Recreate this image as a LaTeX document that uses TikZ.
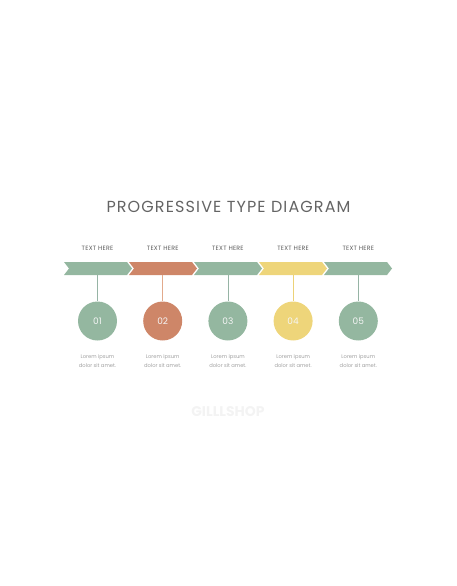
\documentclass[tikz,border=0pt]{standalone}
\usepackage{fontspec}
\setmainfont{Poppins}
\newfontfamily\titlefont[LetterSpace=7]{Poppins}
\newfontfamily\labfont[LetterSpace=4]{Poppins}
\definecolor{sage}{RGB}{148,183,160}
\definecolor{terra}{RGB}{206,134,104}
\definecolor{sun}{RGB}{238,213,122}
\definecolor{sageline}{RGB}{150,180,165}
\definecolor{terraline}{RGB}{226,170,140}
\definecolor{sunline}{RGB}{236,210,120}
\definecolor{titlegray}{RGB}{100,100,100}
\definecolor{labgray}{RGB}{90,90,90}
\definecolor{lorgray}{RGB}{160,160,160}
\definecolor{wm}{RGB}{243,243,243}
\tikzset{
  x=1pt,y=-1pt,
  numcircle/.style={circle,minimum size=39pt,inner sep=0pt,text=white!92!gray,font=\fontsize{9}{9}\selectfont},
  headlab/.style={font=\labfont\fontsize{6.2}{6.5}\selectfont,text=labgray,inner sep=0pt},
  lorem/.style={font=\fontsize{5.2}{9}\selectfont,text=lorgray,align=center,inner sep=0pt},
  stem/.style={line width=0.8pt}
}
\begin{document}
\begin{tikzpicture}
\useasboundingbox (0,0) rectangle (456,586);
\node[font=\titlefont\fontsize{16}{17}\selectfont,text=titlegray,inner sep=0pt] (title) at (228.5,207) {PROGRESSIVE TYPE DIAGRAM};
\foreach \i/\c/\l/\n in {0/sage/sageline/01,1/terra/terraline/02,2/sage/sageline/03,3/sun/sunline/04,4/sage/sageline/05}{
  \pgfmathsetmacro{\xo}{64+65*\i}
  \pgfmathsetmacro{\xc}{97.5+65.2*\i}
  \fill[\c] (\xo,262) -- ++(63,0) -- ++(5,6.5) -- ++(-5,6.5) -- ++(-63,0) -- ++(5,-6.5) -- cycle;
  \coordinate (a\n) at (\xc,275);
  \node[headlab] (h\n) at (\xc,248.5) {TEXT HERE};
  \node[numcircle,fill=\c] (c\n) at (\xc,321) {\n};
  \draw[stem,\l] (a\n) -- (c\n.north);
  \node[lorem] (t\n) at (\xc,361.5) {Lorem ipsum\\dolor sit amet.};
}
\node[font=\bfseries\fontsize{14}{14}\selectfont,text=wm,inner sep=0pt] (wmk) at (228,412) {GILLLSHOP};
\end{tikzpicture}
\end{document}
